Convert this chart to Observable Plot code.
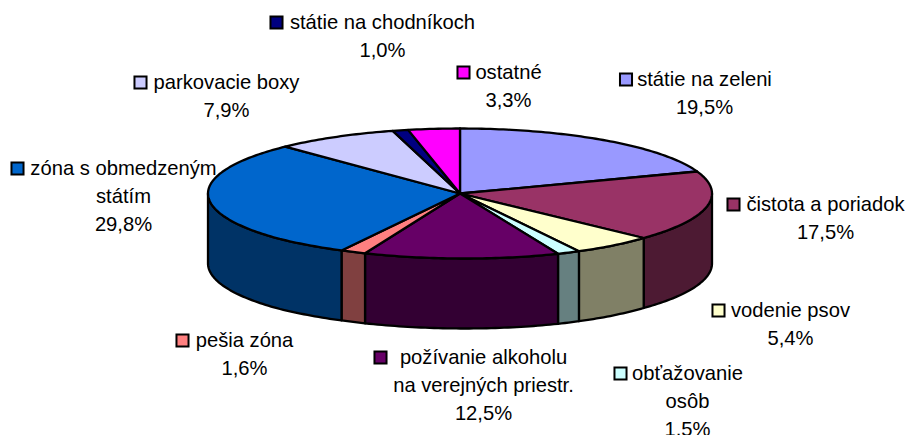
<!DOCTYPE html>
<html>
<head>
<meta charset="utf-8">
<script src="https://cdn.jsdelivr.net/npm/d3@7"></script>
<script src="https://cdn.jsdelivr.net/npm/@observablehq/plot@0.6"></script>
<style>html,body{margin:0;padding:0;background:#fff}svg{display:block}</style>
</head>
<body>
<div id="chart"></div>
<script>
// Chart data
const categories = ["státie na zeleni","čistota a poriadok","vodenie psov","obťažovanie osôb","požívanie alkoholu na verejných priestr.","pešia zóna","zóna s obmedzeným státím","parkovacie boxy","státie na chodníkoch","ostatné"];
const values = [19.5,17.5,5.4,1.5,12.5,1.6,29.8,7.9,1.0,3.3];
const topColors = ["#9999FF","#993366","#FFFFCC","#CCFFFF","#660066","#FF8080","#0066CC","#CCCCFF","#000080","#FF00FF"];
const wallColors = ["#4D4D80","#4D1A33","#808066","#668080","#330033","#804040","#003366","#666680","#000040","#800080"];
// Label text lines (category wrapped as in the picture)
const labelLines = [["státie na zeleni"],["čistota a poriadok"],["vodenie psov"],["obťažovanie","osôb"],["požívanie alkoholu","na verejných priestr."],["pešia zóna"],["zóna s obmedzeným","státím"],["parkovacie boxy"],["státie na chodníkoch"],["ostatné"]];
// Layout in pixels: centre x of text, y of first line, swatch x
const labelX = [704,825,790,687,483,244,123,226,382,508];
const labelY = [79,204,310,373,357,340,168,82,22,72];
const swatchX = [625.5,733,718,620,380,182,17,140,276,463];
const lineGap = 27.9;

const cx = 459.5, cy = 193, rx = 252, ry = 65, depth = 70;
// slight skew of the drawn front edge, as in the tilted original
const px = a => cx + rx * Math.sin(a) + 5 * Math.max(0, (-Math.cos(a) - 0.7) / 0.3);
const py = a => cy - ry * Math.cos(a);
const arc = (a0, a1) => {
  const n = Math.max(2, Math.ceil((a1 - a0) / (Math.PI / 180)));
  return d3.range(n + 1).map(i => a0 + (a1 - a0) * i / n);
};

const total = d3.sum(values);
const cum = d3.cumsum(values);
const tops = [], walls = [];
values.forEach((v, i) => {
  const a1 = cum[i] / total * 2 * Math.PI, a0 = a1 - v / total * 2 * Math.PI;
  const pts = [[cx, cy], ...arc(a0, a1).map(a => [px(a), py(a)]), [cx, cy]];
  pts.forEach(([x, y]) => tops.push({x, y, k: i, c: topColors[i]}));
  const w0 = Math.max(a0, Math.PI / 2), w1 = Math.min(a1, 3 * Math.PI / 2);
  if (w1 > w0) {
    const as = arc(w0, w1);
    const ring = [...as.map(a => [px(a), py(a)]), ...as.slice().reverse().map(a => [px(a), py(a) + depth])];
    ring.push(ring[0]);
    ring.forEach(([x, y]) => walls.push({x, y, k: i, c: wallColors[i]}));
  }
});

const fmt = v => v.toFixed(1).replace(".", ",") + "%";
const texts = [];
const swatches = [];
categories.forEach((c, i) => {
  const lines = [...labelLines[i], fmt(values[i])];
  lines.forEach((t, j) => texts.push({t, x: labelX[i], y: labelY[i] + j * lineGap}));
  swatches.push({x: swatchX[i], y: labelY[i], c: topColors[i]});
});

const chart = Plot.plot({
  width: 908, height: 435, margin: 0,
  x: {domain: [0, 908], range: [0, 908], axis: null},
  y: {domain: [0, 435], range: [0, 435], axis: null},
  color: {type: "identity"},
  style: {background: "#fff"},
  marks: [
    Plot.line(walls, {x: "x", y: "y", z: "k", fill: "c", stroke: "#000", strokeWidth: 2.3, strokeLinejoin: "round"}),
    Plot.line(tops, {x: "x", y: "y", z: "k", fill: "c", stroke: "#000", strokeWidth: 2.3, strokeLinejoin: "round"}),
    Plot.dot(swatches, {x: "x", y: "y", symbol: "square", r: 6.8, fill: "c", stroke: "#000", strokeWidth: 2}),
    Plot.text(texts, {x: "x", y: "y", text: "t", fontFamily: "Liberation Sans", fontSize: 20.2, fill: "#000", textAnchor: "middle", lineAnchor: "middle"})
  ]
});
document.getElementById("chart").append(chart);
</script>
</body>
</html>
